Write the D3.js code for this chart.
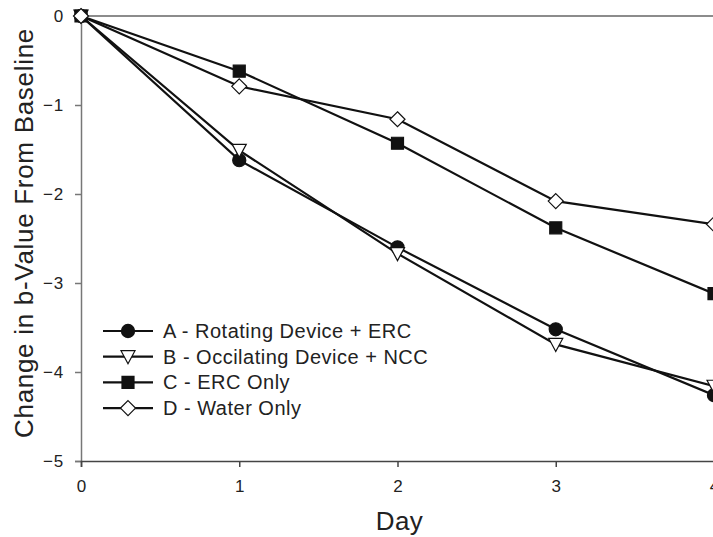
<!DOCTYPE html>
<html>
<head>
<meta charset="utf-8">
<script src="https://cdn.jsdelivr.net/npm/d3@7"></script>
<style>
body { margin: 0; background: #fff; }
</style>
</head>
<body>
<script>
// data
let days = [0, 1, 2, 3, 4];
let seriesNames = ["A - Rotating Device + ERC", "B - Occilating Device + NCC", "C - ERC Only", "D - Water Only"];
let seriesA = [0, -1.62, -2.60, -3.52, -4.26];
let seriesB = [0, -1.51, -2.67, -3.69, -4.16];
let seriesC = [0, -0.62, -1.43, -2.38, -3.12];
let seriesD = [0, -0.79, -1.16, -2.08, -2.34];
let yTicks = [0, -1, -2, -3, -4, -5];
let xTicks = [0, 1, 2, 3, 4];

let svg = d3.select("body").append("svg")
	.attr("width", 713)
	.attr("height", 537);

let font = "'Liberation Sans', Arial, sans-serif";

let scaleX = d3.scaleLinear().domain([0, 4]).range([81, 714]);
let scaleY = d3.scaleLinear().domain([0, -5]).range([16, 461]);

//top frame line
svg.append("line")
	.attr("x1", scaleX(0)).attr("x2", scaleX(4))
	.attr("y1", scaleY(0)).attr("y2", scaleY(0))
	.attr("stroke", "#666").attr("stroke-width", 1.5);

let yAxis = d3.axisLeft(scaleY).tickValues(yTicks).tickFormat(d3.format("d")).tickSize(6).tickPadding(11);
let yG = svg.append("g")
	.attr("transform", `translate(${scaleX(0)},0)`)
	.call(yAxis);
yG.selectAll("path,line").attr("stroke", "#777").attr("stroke-width", 1.5);
yG.selectAll("text").attr("font-family", font).attr("font-size", 17).attr("letter-spacing", 0.8).attr("fill", "#222");

let xAxis = d3.axisBottom(scaleX).tickValues(xTicks).tickFormat(d3.format("d")).tickSize(6).tickPadding(13);
let xG = svg.append("g")
	.attr("transform", `translate(0,${scaleY(-5)})`)
	.call(xAxis);
xG.selectAll("path,line").attr("stroke", "#444").attr("stroke-width", 1.5);
xG.selectAll("text").attr("font-family", font).attr("font-size", 17).attr("fill", "#222");

//axis names
svg.append("text")
	.attr("font-family", font)
	.attr("font-size", 26)
	.attr("letter-spacing", 0.7)
	.attr("fill", "#222")
	.attr("text-anchor", "middle")
	.attr("transform", "translate(33,233) rotate(-90)")
	.text("Change in b-Value From Baseline");

svg.append("text")
	.attr("font-family", font)
	.attr("font-size", 26)
	.attr("letter-spacing", 0.5)
	.attr("fill", "#222")
	.attr("text-anchor", "middle")
	.attr("x", scaleX(2) + 2)
	.attr("y", 530)
	.text("Day");

let series = [
	{ name: seriesNames[0], values: seriesA, shape: "circle", fill: "#111" },
	{ name: seriesNames[1], values: seriesB, shape: "triangle", fill: "#fff" },
	{ name: seriesNames[2], values: seriesC, shape: "square", fill: "#111" },
	{ name: seriesNames[3], values: seriesD, shape: "diamond", fill: "#fff" }
];

function markerPath(shape) {
	if (shape == "circle") return d3.symbol(d3.symbolCircle, 135)();
	if (shape == "square") return "M-6,-6H6V6H-6Z";
	if (shape == "diamond") return "M0,-7.5L7.5,0L0,7.5L-7.5,0Z";
	return "M-7,-6L7,-6L0,7Z"; //downward triangle
}

let line = d3.line()
	.x((d, i) => scaleX(days[i]))
	.y(d => scaleY(d));

let plot = svg.append("g");

series.forEach(s => {
	plot.append("path")
		.datum(s.values)
		.attr("d", line)
		.attr("fill", "none")
		.attr("stroke", "#111")
		.attr("stroke-width", 2.2);
});

series.forEach(s => {
	plot.selectAll(null)
		.data(s.values)
		.enter().append("path")
		.attr("transform", (d, i) => `translate(${scaleX(days[i])},${scaleY(d)})`)
		.attr("d", markerPath(s.shape))
		.attr("fill", s.fill)
		.attr("stroke", "#111")
		.attr("stroke-width", 1.2);
});

//legend
let legend = svg.append("g").attr("transform", "translate(103,331)");
series.forEach((s, i) => {
	let row = legend.append("g").attr("transform", `translate(0,${i * 25.7})`);
	row.append("line")
		.attr("x1", 0).attr("x2", 50)
		.attr("stroke", "#111").attr("stroke-width", 2.2);
	row.append("path")
		.attr("transform", "translate(25,0)")
		.attr("d", markerPath(s.shape))
		.attr("fill", s.fill)
		.attr("stroke", "#111")
		.attr("stroke-width", 1.2);
	row.append("text")
		.attr("x", 60)
		.attr("y", 7)
		.attr("font-family", font)
		.attr("font-size", 20)
		.attr("letter-spacing", 0.5)
		.attr("fill", "#222")
		.text(s.name);
});
</script>
</body>
</html>
